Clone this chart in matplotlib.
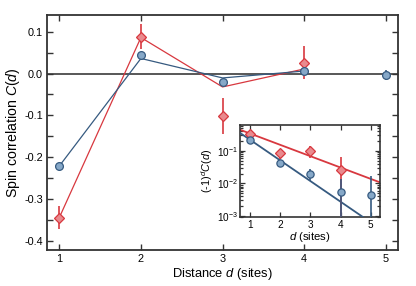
import numpy as np
import matplotlib
matplotlib.use("Agg")
import matplotlib.pyplot as plt
from matplotlib.ticker import MultipleLocator, FixedLocator, LogLocator, NullFormatter, FuncFormatter

plt.rcParams['font.family'] = ['Liberation Sans', 'DejaVu Sans']
plt.rcParams['mathtext.fontset'] = 'custom'
plt.rcParams['mathtext.rm'] = 'Liberation Sans'
plt.rcParams['mathtext.it'] = 'Liberation Sans:italic'

# ---- data ----
dist = [1, 2, 3, 4, 5]
blue_C = [-0.221, 0.044, -0.020, 0.0055, -0.0045]
blue_err = [0.005, 0.005, 0.008, 0.008, 0.012]
red_d = [1, 2, 3, 4]
red_C = [-0.344, 0.0876, -0.102, 0.026]
red_err = [0.028, 0.030, 0.043, 0.039]
# theory lines (main panel)
blue_theory_d = [1, 2, 3, 4]
blue_theory = [-0.221, 0.036, -0.0105, 0.006]
red_theory_d = [1, 2, 3, 4]
red_theory = [-0.344, 0.086, -0.032, 0.011]
# exponential fits (inset), endpoints
fit_d = [0.7, 5.3]
blue_fit = [0.348, 0.000404]
red_fit = [0.443, 0.0108]

RED = '#d8383f'
RED_FILL = '#e98a8e'
BLUE = '#365a80'
BLUE_FILL = '#86a8c8'
FRAME = '#333333'

fig = plt.figure(figsize=(4.16, 2.86), dpi=100)
ax = fig.add_axes([0.113, 0.126, 0.844, 0.822])

ax.axhline(0, color='#4a4a4a', lw=1.3, zorder=1)
ax.plot(red_theory_d, red_theory, color=RED, lw=0.9, zorder=2)
ax.plot(blue_theory_d, blue_theory, color=BLUE, lw=0.9, zorder=3)
ax.errorbar(red_d, red_C, yerr=red_err, fmt='D', ms=5.2, mfc=RED_FILL, mec=RED,
            mew=0.9, ecolor=RED, elinewidth=1.2, capsize=0, zorder=4)
ax.errorbar(dist, blue_C, yerr=blue_err, fmt='o', ms=5.6, mfc=BLUE_FILL, mec=BLUE,
            mew=0.9, ecolor=BLUE, elinewidth=1.2, capsize=0, zorder=5)

ax.set_xlim(0.85, 5.15)
ax.set_ylim(-0.421, 0.14)
ax.xaxis.set_major_locator(FixedLocator(dist))
ax.yaxis.set_major_locator(MultipleLocator(0.1))
ax.yaxis.set_minor_locator(MultipleLocator(0.05))
ax.yaxis.set_major_formatter(FuncFormatter(lambda v, p: f"{v:.1f}" if abs(v) > 1e-9 else "0.0"))
ax.tick_params(which='both', direction='in', top=True, right=True, labelsize=7.8,
               color=FRAME, width=1.0, pad=3)
ax.tick_params(which='major', length=4)
ax.tick_params(which='minor', length=4)
for s in ax.spines.values():
    s.set_color(FRAME)
    s.set_linewidth(1.3)
ax.set_xlabel('Distance $\\it{d}$ (sites)', fontsize=9.3, labelpad=1)
ax.set_ylabel('Spin correlation $\\it{C}$($\\it{d}$)', fontsize=10.2)
ax.yaxis.set_label_coords(-0.072, 0.5)

# ---- inset ----
ins = fig.add_axes([0.578, 0.240, 0.336, 0.322])
blue_abs = [((-1) ** d) * c for d, c in zip(dist, blue_C)]
red_abs = [((-1) ** d) * c for d, c in zip(red_d, red_C)]
ins.plot(fit_d, red_fit, color=RED, lw=1.3, zorder=2)
ins.plot(fit_d, blue_fit, color=BLUE, lw=1.3, zorder=3)
ins.errorbar(red_d, red_abs, yerr=red_err, fmt='D', ms=4.6, mfc=RED_FILL, mec=RED,
             mew=0.9, ecolor=RED, elinewidth=1.2, capsize=0, zorder=4)
ins.errorbar(dist, blue_abs, yerr=blue_err, fmt='o', ms=5.2, mfc=BLUE_FILL, mec=BLUE,
             mew=0.9, ecolor=BLUE, elinewidth=1.2, capsize=0, zorder=5)
ins.set_yscale('log')
ins.set_xlim(0.69, 5.31)
ins.set_ylim(9e-4, 0.62)
ins.xaxis.set_major_locator(FixedLocator(dist))
ins.yaxis.set_major_locator(LogLocator(base=10, numticks=10))
ins.yaxis.set_minor_locator(LogLocator(base=10, subs=np.arange(2, 10), numticks=10))
ins.yaxis.set_minor_formatter(NullFormatter())
ins.tick_params(which='both', direction='in', top=True, right=True, labelsize=7.2,
                color=FRAME, width=0.9, pad=2)
ins.tick_params(which='major', length=3.5)
ins.tick_params(which='minor', length=2)
for s in ins.spines.values():
    s.set_color(FRAME)
    s.set_linewidth(1.2)
ins.set_xlabel('$\\it{d}$ (sites)', fontsize=8.2, labelpad=0)
ins.set_ylabel('(-1)$^{\\it{d}}$$\\it{C}$($\\it{d}$)', fontsize=7.8, labelpad=1)

fig.savefig('out.png', dpi=100)
